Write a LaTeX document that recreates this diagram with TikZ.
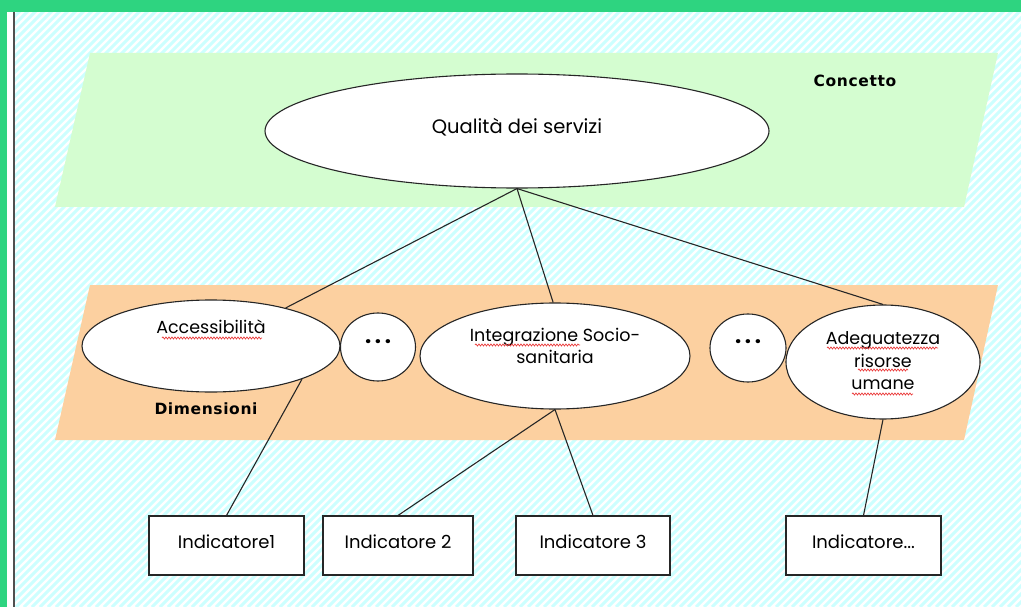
\documentclass[tikz,border=0pt]{standalone}
\usepackage{fontspec}
\setmainfont{Poppins}
\newfontfamily\lblfont[LetterSpace=4]{DejaVu Sans}
\usetikzlibrary{shapes.geometric,decorations.pathmorphing}
\definecolor{bordergreen}{RGB}{46,212,128}
\definecolor{hatchcyan}{RGB}{205,255,255}
\definecolor{conceptgreen}{RGB}{212,253,208}
\definecolor{dimorange}{RGB}{252,208,160}
\definecolor{edgegray}{RGB}{80,80,80}
\definecolor{spellred}{RGB}{235,60,60}
\tikzset{
  hatchline/.style={draw=hatchcyan, line width=2.9pt},
  oval/.style={ellipse, draw=black!85, line width=1.1pt, fill=white, inner sep=0pt},
  indbox/.style={rectangle, draw=black!85, line width=1.1pt, fill=white, minimum width=155pt, minimum height=59pt, inner sep=0pt, text height=13pt, text depth=8pt, font=\fontsize{18}{20}\selectfont},
  txt/.style={inner sep=0pt, align=center, font=\fontsize{17.5}{22.5}\selectfont},
  lbl/.style={inner sep=0pt, font=\lblfont\bfseries\fontsize{15.5}{17}\selectfont},
  link/.style={draw=black!85, line width=1.1pt},
  wavy/.style={draw=spellred, line width=0.7pt, decorate, decoration={snake, amplitude=1pt, segment length=3pt}}
}
\begin{document}
\begin{tikzpicture}[x=1pt,y=-1pt]
\useasboundingbox (0,0) rectangle (1021,607);
% frame
\fill[white] (0,0) rectangle (1021,607);
\begin{scope}
  \clip (15,12) rectangle (1021,607);
  \foreach \i in {-608,-600,...,1024} \draw[hatchline] (\i,607) -- (\i+607,0);
\end{scope}
\fill[bordergreen] (0,0) rectangle (1021,12);
\fill[bordergreen] (0,0) rectangle (7,607);
\draw[edgegray, line width=2pt] (14,12) -- (14,607);
% bands
\fill[conceptgreen] (90,53) -- (998,53) -- (964,207) -- (55,207) -- cycle;
\fill[dimorange] (90,285) -- (998,285) -- (964,440) -- (55,440) -- cycle;
\node[lbl] (concetto) at (855,81) {Concetto};
\node[lbl] (dimensioni) at (206,409) {Dimensioni};
% ellipses
\node[oval, minimum width=504pt, minimum height=114pt] (q) at (517,131) {};
\node[oval, minimum width=258pt, minimum height=92pt] (acc) at (211,346) {};
\node[oval, minimum width=75pt, minimum height=68pt] (d1) at (378,347) {};
\node[oval, minimum width=270pt, minimum height=106pt] (int) at (555,356) {};
\node[oval, minimum width=76pt, minimum height=68pt] (d2) at (748,348) {};
\node[oval, minimum width=194pt, minimum height=114pt] (ade) at (883,362) {};
% ellipse texts
\node[txt, font=\fontsize{19.5}{22}\selectfont] (tq) at (517,127) {Qualità dei servizi};
\node[txt] (tacc) at (211,327) {Accessibilità};
\node[txt, font=\fontsize{22}{22}\selectfont] (td1) at (378,342) {\textbf{.\,.\,.}};
\node[txt] (tint) at (555,346) {Integrazione Socio-\\sanitaria};
\node[txt, font=\fontsize{22}{22}\selectfont] (td2) at (748,342) {\textbf{.\,.\,.}};
\node[txt] (tade) at (883,361) {Adeguatezza\\risorse\\umane};
% spell-check underlines
\draw[wavy] (162,338) -- (262,338);
\draw[wavy] (475,345) -- (580,345);
\draw[wavy] (827,348) -- (938,348);
\draw[wavy] (858,370) -- (908,370);
\draw[wavy] (852,394) -- (913,394);
% indicator boxes
\node[indbox] (i1) at (226.5,545.5) {Indicatore1};
\node[indbox, minimum width=150pt] (i2) at (398,545.5) {Indicatore 2};
\node[indbox, minimum width=154pt] (i3) at (593,545.5) {Indicatore 3};
\node[indbox] (i4) at (863.5,545.5) {Indicatore...};
% connectors
\draw[link] (q.south) -- (acc.27);
\draw[link] (q.south) -- (int.92);
\draw[link] (q.south) -- (ade.north);
\draw[link] (acc.-20) -- (i1.north);
\draw[link] (int.south) -- (i2.north);
\draw[link] (int.south) -- (i3.north);
\draw[link] (ade.south) -- (i4.north);
\end{tikzpicture}
\end{document}
